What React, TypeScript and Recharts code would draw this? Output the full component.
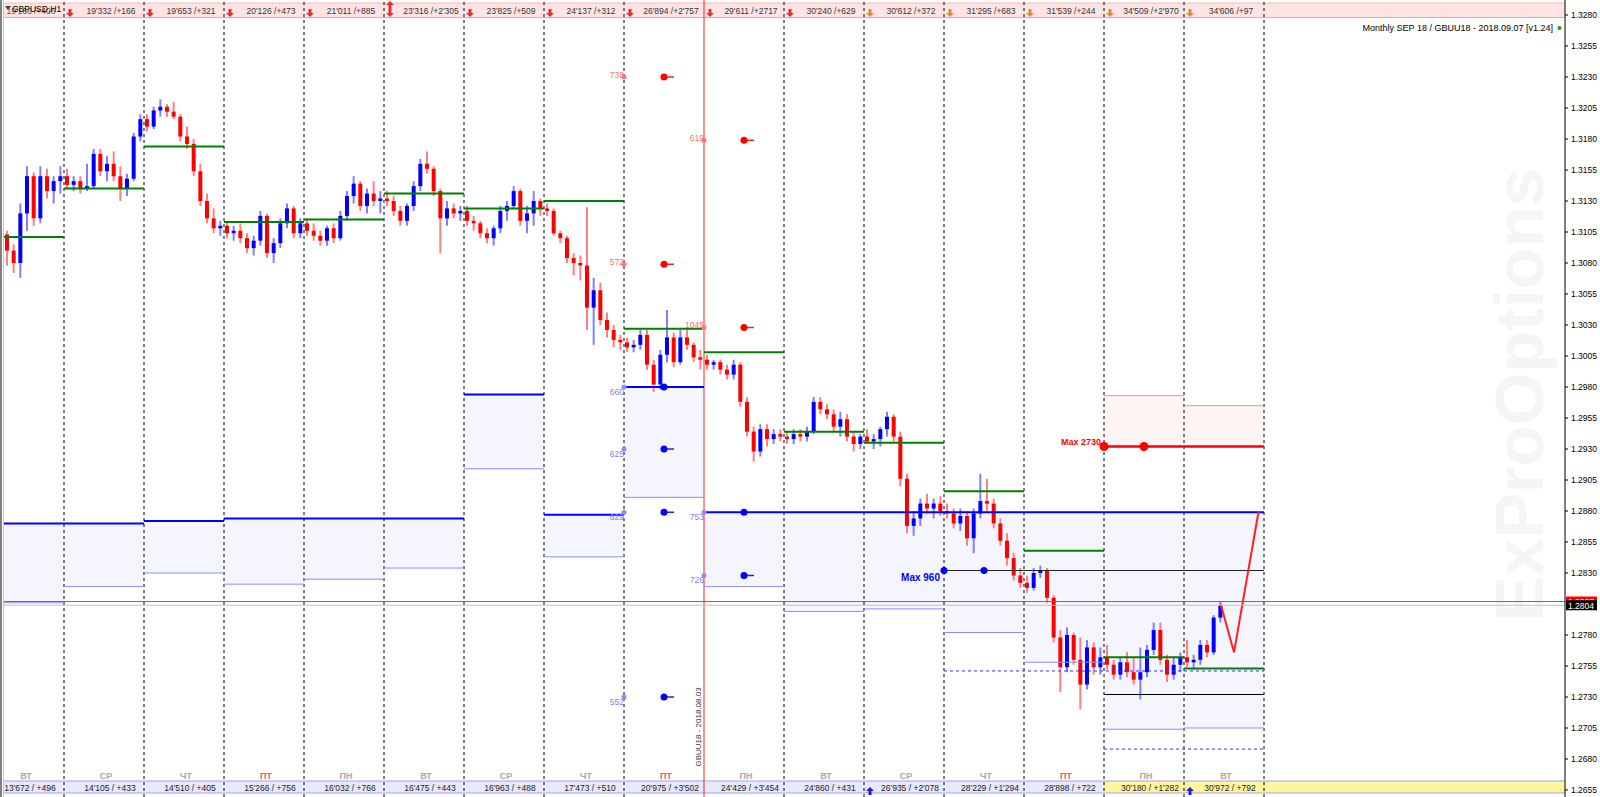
import React from "react";
import {
  ComposedChart,
  Bar,
  Cell,
  XAxis,
  YAxis,
  ReferenceLine,
  ReferenceArea,
  ReferenceDot,
} from "recharts";

// GBPUSD H1, aggregated to 2-hour bars.
// Each bar: [open, high, low, close] as the 4 digits after "1." (3103 -> 1.3103)
type Candle = [number, number, number, number];

const day00: Candle[] = [
  [3103, 3106, 3078, 3090], [3090, 3095, 3072, 3080], [3080, 3128, 3068, 3120],
  [3120, 3158, 3106, 3150], [3150, 3153, 3110, 3116], [3116, 3158, 3112, 3150],
  [3150, 3156, 3132, 3138], [3138, 3150, 3128, 3146], [3146, 3158, 3136, 3150],
];
const day01: Candle[] = [
  [3150, 3156, 3140, 3143], [3143, 3150, 3138, 3146], [3146, 3150, 3136, 3140],
  [3140, 3160, 3138, 3142], [3142, 3172, 3140, 3168], [3168, 3172, 3150, 3154],
  [3154, 3166, 3146, 3160], [3160, 3170, 3146, 3150], [3150, 3158, 3130, 3140],
  [3140, 3152, 3134, 3148], [3148, 3185, 3146, 3182], [3182, 3200, 3178, 3196],
];
const day02: Candle[] = [
  [3196, 3200, 3186, 3190], [3190, 3206, 3188, 3203], [3203, 3212, 3198, 3206],
  [3206, 3208, 3198, 3202], [3202, 3210, 3196, 3198], [3198, 3200, 3178, 3182],
  [3182, 3190, 3172, 3176], [3176, 3180, 3150, 3154], [3154, 3160, 3126, 3130],
  [3130, 3136, 3112, 3116], [3116, 3124, 3104, 3108], [3108, 3114, 3102, 3110],
];
const day03: Candle[] = [
  [3110, 3114, 3100, 3104], [3104, 3110, 3098, 3106], [3106, 3112, 3096, 3100],
  [3100, 3104, 3088, 3092], [3092, 3102, 3086, 3098], [3098, 3122, 3094, 3118],
  [3118, 3120, 3084, 3088], [3088, 3100, 3080, 3096], [3096, 3116, 3092, 3112],
  [3112, 3128, 3108, 3124], [3124, 3126, 3100, 3104], [3104, 3116, 3100, 3112],
];
const day04: Candle[] = [
  [3112, 3116, 3102, 3106], [3106, 3112, 3098, 3102], [3102, 3106, 3094, 3098],
  [3098, 3110, 3094, 3108], [3108, 3112, 3096, 3100], [3100, 3122, 3098, 3118],
  [3118, 3138, 3114, 3134], [3134, 3150, 3128, 3144], [3144, 3146, 3122, 3126],
  [3126, 3140, 3120, 3136], [3136, 3146, 3126, 3130], [3130, 3138, 3120, 3132],
];
const day05: Candle[] = [
  [3132, 3138, 3126, 3130], [3130, 3134, 3118, 3122], [3122, 3126, 3110, 3114],
  [3114, 3128, 3110, 3126], [3126, 3146, 3122, 3142], [3142, 3164, 3138, 3160],
  [3160, 3170, 3152, 3156], [3156, 3158, 3134, 3138], [3138, 3140, 3088, 3116],
  [3116, 3130, 3110, 3124], [3124, 3128, 3116, 3120], [3120, 3126, 3114, 3122],
];
const day06: Candle[] = [
  [3122, 3126, 3110, 3114], [3114, 3118, 3106, 3112], [3112, 3114, 3100, 3104],
  [3104, 3108, 3096, 3100], [3100, 3110, 3094, 3108], [3108, 3126, 3104, 3122],
  [3122, 3130, 3114, 3126], [3126, 3142, 3124, 3138], [3138, 3140, 3110, 3114],
  [3114, 3126, 3104, 3120], [3120, 3138, 3110, 3130], [3130, 3132, 3118, 3124],
];
const day07: Candle[] = [
  [3124, 3128, 3118, 3122], [3122, 3124, 3102, 3104], [3104, 3106, 3096, 3100],
  [3100, 3102, 3080, 3084], [3084, 3088, 3070, 3080], [3080, 3086, 3066, 3078],
  [3078, 3125, 3026, 3044], [3044, 3068, 3014, 3058], [3058, 3064, 3030, 3034],
  [3034, 3040, 3020, 3026], [3026, 3030, 3012, 3018], [3018, 3022, 3010, 3016],
];
const day08: Candle[] = [
  [3016, 3020, 3008, 3012], [3012, 3018, 3008, 3014], [3014, 3026, 3010, 3022],
  [3022, 3026, 2994, 2998], [2998, 3002, 2976, 2982], [2982, 3010, 2978, 3006],
  [3006, 3042, 3000, 3020], [3020, 3024, 2996, 3000], [3000, 3026, 2998, 3020],
  [3020, 3028, 3010, 3014], [3014, 3016, 3000, 3004], [3004, 3010, 2994, 3002],
];
const day09: Candle[] = [
  [3002, 3006, 2994, 2998], [2998, 3002, 2994, 3000], [3000, 3002, 2990, 2994],
  [2994, 2998, 2986, 2990], [2990, 3002, 2986, 2998], [2998, 3000, 2964, 2968],
  [2968, 2972, 2940, 2944], [2944, 2948, 2920, 2928], [2928, 2950, 2924, 2946],
  [2946, 2950, 2932, 2938], [2938, 2946, 2934, 2942], [2942, 2946, 2936, 2940],
];
const day10: Candle[] = [
  [2940, 2944, 2934, 2938], [2938, 2946, 2934, 2942], [2942, 2946, 2936, 2940],
  [2940, 2948, 2936, 2944], [2944, 2972, 2942, 2968], [2968, 2972, 2958, 2962],
  [2962, 2966, 2954, 2958], [2958, 2962, 2944, 2948], [2948, 2960, 2940, 2954],
  [2954, 2958, 2936, 2940], [2940, 2944, 2928, 2934], [2934, 2942, 2930, 2940],
];
const day11: Candle[] = [
  [2940, 2946, 2934, 2936], [2936, 2942, 2930, 2938], [2938, 2948, 2932, 2946],
  [2946, 2960, 2940, 2956], [2956, 2958, 2936, 2940], [2940, 2944, 2900, 2906],
  [2906, 2910, 2862, 2868], [2868, 2880, 2860, 2874], [2874, 2890, 2868, 2886],
  [2886, 2894, 2878, 2882], [2882, 2890, 2874, 2886], [2886, 2892, 2876, 2880],
];
const day12: Candle[] = [
  [2880, 2886, 2874, 2878], [2878, 2882, 2866, 2870], [2870, 2882, 2864, 2876],
  [2876, 2880, 2852, 2858], [2858, 2882, 2846, 2878], [2878, 2910, 2874, 2888],
  [2888, 2906, 2880, 2886], [2886, 2890, 2866, 2870], [2870, 2874, 2852, 2856],
  [2856, 2862, 2836, 2842], [2842, 2846, 2824, 2828], [2828, 2834, 2818, 2822],
];
const day13: Candle[] = [
  [2822, 2828, 2814, 2818], [2818, 2834, 2816, 2830], [2830, 2836, 2826, 2832],
  [2832, 2834, 2806, 2810], [2810, 2812, 2774, 2778], [2778, 2784, 2734, 2754],
  [2754, 2786, 2750, 2780], [2780, 2782, 2756, 2760], [2760, 2778, 2720, 2740],
  [2740, 2776, 2736, 2770], [2770, 2774, 2748, 2754], [2754, 2770, 2748, 2762],
];
const day14: Candle[] = [
  [2762, 2772, 2752, 2756], [2756, 2760, 2744, 2748], [2748, 2762, 2744, 2758],
  [2758, 2766, 2746, 2750], [2750, 2762, 2740, 2744], [2744, 2770, 2728, 2750],
  [2750, 2772, 2746, 2768], [2768, 2790, 2764, 2784], [2784, 2790, 2756, 2760],
  [2760, 2764, 2742, 2748], [2748, 2762, 2744, 2756], [2756, 2766, 2750, 2762],
];
const day15: Candle[] = [
  [2762, 2776, 2754, 2758], [2758, 2764, 2752, 2760], [2760, 2776, 2756, 2772],
  [2772, 2776, 2762, 2766], [2766, 2796, 2764, 2794], [2794, 2807, 2790, 2804],
];

const dayNames = ["ВТ", "СР", "ЧТ", "ПТ", "ПН", "ВТ", "СР", "ЧТ", "ПТ", "ПН", "ВТ", "СР", "ЧТ", "ПТ", "ПН", "ВТ"];
const topCounts = [
  "19'166 /+406", "19'332 /+166", "19'653 /+321", "20'126 /+473", "21'011 /+885", "23'316 /+2'305",
  "23'825 /+509", "24'137 /+312", "26'894 /+2'757", "29'611 /+2717", "30'240 /+629", "30'612 /+372",
  "31'295 /+683", "31'539 /+244", "34'509 /+2'970", "34'606 /+97",
];
const bottomCounts = [
  "13'672 / +496", "14'105 / +433", "14'510 / +405", "15'266 / +756", "16'032 / +766", "16'475 / +443",
  "16'963 / +488", "17'473 / +510", "20'975 / +3'502", "24'429 / +3'454", "24'860 / +431", "26'935 / +2'078",
  "28'229 / +1'294", "28'898 / +722", "30'180 / +1'282", "30'972 / +792",
];

// daily levels
const greenLevels = [1.3101, 1.314, 1.3174, 1.3113, 1.3115, 1.3136, 1.3124, 1.313, 1.3027, 1.3008, 1.2944, 1.2935, 1.2896, 1.2848, 1.2762, 1.2753];
const zoneTop = [1.287, 1.287, 1.2872, 1.2874, 1.2874, 1.2874, 1.2974, 1.2877, 1.298, 1.2879, 1.2879, 1.2879, 1.2879, 1.2879, 1.2879, 1.2879];
const zoneBottom = [1.2806, 1.2819, 1.283, 1.2821, 1.2825, 1.2834, 1.2914, 1.2843, 1.2891, 1.2819, 1.2799, 1.2801, 1.2782, 1.2758, 1.2704, 1.2705];

// option strikes marked on 2018.08.03 (label at day edge, dot mid-day)
const putStrikes = [1.323, 1.3079, 1.3179, 1.3028];
const putLabels = ["738", "572", "619", "1045"];
const putDay = [8, 8, 9, 9];
const callStrikes = [1.298, 1.293, 1.2879, 1.273, 1.2879, 1.2828];
const callLabels = ["660", "625", "629", "552", "753", "726"];
const callDay = [8, 8, 8, 8, 9, 9];
const callTail = [false, true, true, true, false, true];

const maxCall = { level: 1.2832, day: 12, text: "Max 960" };
const maxPut = { level: 1.2932, day: 14, text: "Max 2730" };
const pinkTop = [1.2973, 1.2965];
const dashedLevels = [
  { level: 1.2751, from: 12 },
  { level: 1.2688, from: 14 },
];
const blackLow = { level: 1.2732, from: 14 };
const forecast = [
  { x: 185.5, y: 1.2805 },
  { x: 187.5, y: 1.2766 },
  { x: 191.2, y: 1.288 },
];
const bidPrice = 1.2804;
const askPrice = 1.2807;

const yTicks = [
  1.2655, 1.268, 1.2705, 1.273, 1.2755, 1.278, 1.283, 1.2855, 1.288, 1.2905, 1.293, 1.2955, 1.298,
  1.3005, 1.303, 1.3055, 1.308, 1.3105, 1.313, 1.3155, 1.318, 1.3205, 1.323, 1.3255, 1.328,
];

const W = 1600;
const H = 797;
const PLOT_LEFT = 4;
const AXIS_W = 35;
const PLOT_RIGHT = W - AXIS_W;
const X_MIN = 3;
const X_MAX = 237.15;
const Y_MIN = 1.264935;
const Y_MAX = 1.32921;
const BARS_PER_DAY = 12;
const FIRST_BAR = 3;
const LAST_DAY_END = 16 * BARS_PER_DAY;
const FONT = "'Liberation Sans', Arial, sans-serif";

const toPrice = (v: number) => 1 + v / 10000;

const days = [day00, day01, day02, day03, day04, day05, day06, day07, day08, day09, day10, day11, day12, day13, day14, day15];

const candles = days.flatMap((bars, d) =>
  bars.map(([o, h, l, c], j) => {
    const idx = d * BARS_PER_DAY + (d === 0 ? FIRST_BAR : 0) + j;
    const lo = toPrice(Math.min(o, c));
    const hi = toPrice(Math.max(o, c));
    return {
      x: idx + 0.5,
      wick: [toPrice(l), toPrice(h)],
      body: hi - lo < 0.00008 ? [lo - 0.00004, hi + 0.00004] : [lo, hi],
      up: c >= o,
    };
  })
);

// pixel edge of a day, only used for the header/footer strips
const dayPx = (k: number) =>
  PLOT_LEFT + ((k * BARS_PER_DAY - X_MIN) * (PLOT_RIGHT - PLOT_LEFT)) / (X_MAX - X_MIN);

const dayStart = (k: number) => Math.max(X_MIN, k * BARS_PER_DAY);
const dayEnd = (k: number) => k * BARS_PER_DAY + BARS_PER_DAY;

type VB = { x: number; y: number; width: number; height: number };

const tagText =
  (text: string, color: string, dx: number, dy: number, anchor: "start" | "middle" | "end", size = 8.5, weight: string | number = "normal") =>
  (props: { viewBox?: VB }) => {
    const vb = props.viewBox;
    if (!vb) return null;
    const cx = vb.x + vb.width / 2;
    const cy = vb.y + vb.height / 2;
    return (
      <text x={cx + dx} y={cy + dy} textAnchor={anchor} fill={color} fontSize={size} fontWeight={weight} fontFamily={FONT}>
        {text}
      </text>
    );
  };

const priceTag = (text: string, bg: string) => (props: { viewBox?: VB }) => {
  const vb = props.viewBox;
  if (!vb) return null;
  const x = vb.x + vb.width + 1;
  return (
    <g>
      <rect x={x} y={vb.y - 5} width={31} height={10} fill={bg} />
      <text x={x + 2} y={vb.y + 3.5} fill="#fff" fontSize={8.5} fontFamily={FONT}>
        {text}
      </text>
    </g>
  );
};

function DownArrow({ x, y, color }: { x: number; y: number; color: string }) {
  const p = `${x - 1.5},${y} ${x + 1.5},${y} ${x + 1.5},${y + 4} ${x + 4},${y + 4} ${x},${y + 8} ${x - 4},${y + 4} ${x - 1.5},${y + 4}`;
  return <polygon points={p} fill={color} />;
}

function UpArrow({ x, y, color }: { x: number; y: number; color: string }) {
  const p = `${x},${y} ${x + 4},${y + 4} ${x + 1.5},${y + 4} ${x + 1.5},${y + 8} ${x - 1.5},${y + 8} ${x - 1.5},${y + 4} ${x - 4},${y + 4}`;
  return <polygon points={p} fill={color} />;
}

export default function App() {
  const dayIdx = dayNames.map((_, k) => k);

  return (
    <div style={{ position: "relative", width: W, height: H, background: "#fff", overflow: "hidden" }}>
      <style>{"body{margin:0}"}</style>

      {/* background: watermark and strips */}
      <svg width={W} height={H} style={{ position: "absolute", left: 0, top: 0, zIndex: 0 }}>
        <text
          transform="translate(1543 395) rotate(-90)"
          textAnchor="middle"
          fontSize={68}
          fontWeight="bold"
          fontFamily={FONT}
          fill="#f5f5f5"
        >
          ExProOptions
        </text>
        <rect x={PLOT_LEFT} y={3} width={PLOT_RIGHT - PLOT_LEFT} height={14} fill="#ffe4e4" />
        <line x1={PLOT_LEFT} x2={PLOT_RIGHT} y1={3} y2={3} stroke="#ffb4b4" />
        <line x1={PLOT_LEFT} x2={PLOT_RIGHT} y1={17.5} y2={17.5} stroke="#ff9c9c" />
        <rect x={PLOT_LEFT} y={781} width={PLOT_RIGHT - PLOT_LEFT} height={12} fill="#e8e8fb" />
        <rect x={dayPx(14)} y={781} width={PLOT_RIGHT - dayPx(14)} height={12} fill="#fff59d" />
        <line x1={PLOT_LEFT} x2={PLOT_RIGHT} y1={781} y2={781} stroke="#a0a0f0" />
        <line x1={PLOT_LEFT} x2={PLOT_RIGHT} y1={793} y2={793} stroke="#a0a0f0" />
        <rect x={0} y={0} width={2} height={H} fill="#808080" />
        <rect x={3} y={0} width={1} height={H} fill="#c8c8c8" />
      </svg>

      <div style={{ position: "absolute", left: 0, top: 0, zIndex: 1 }}>
        <ComposedChart
          width={W}
          height={H}
          data={candles}
          margin={{ top: 0, right: 0, bottom: 0, left: PLOT_LEFT }}
          style={{ fontFamily: FONT }}
        >
          <XAxis xAxisId={0} type="number" dataKey="x" domain={[X_MIN, X_MAX]} allowDataOverflow hide />
          <XAxis xAxisId="wick" type="number" dataKey="x" domain={[X_MIN, X_MAX]} allowDataOverflow hide />
          <XAxis xAxisId="body" type="number" dataKey="x" domain={[X_MIN, X_MAX]} allowDataOverflow hide />
          <YAxis
            orientation="right"
            type="number"
            domain={[Y_MIN, Y_MAX]}
            allowDataOverflow
            ticks={yTicks}
            interval={0}
            tickFormatter={(v: number) => v.toFixed(4)}
            width={AXIS_W}
            tickSize={3}
            tickMargin={3}
            axisLine={{ stroke: "#000" }}
            tickLine={{ stroke: "#000" }}
            tick={{ fontSize: 8.5, fill: "#000", fontFamily: FONT }}
          />

          {/* daily call zones */}
          {dayIdx.map((k) => (
            <ReferenceArea
              key={`zone-${k}`}
              x1={dayStart(k)}
              x2={dayEnd(k)}
              y1={zoneBottom[k]}
              y2={zoneTop[k]}
              fill="#f5f5fd"
              fillOpacity={1}
              stroke="none"
            />
          ))}
          {pinkTop.map((top, i) => (
            <ReferenceArea
              key={`pink-${i}`}
              x1={dayStart(maxPut.day + i)}
              x2={dayEnd(maxPut.day + i)}
              y1={maxPut.level}
              y2={top}
              fill="#fff4f4"
              fillOpacity={1}
              stroke="none"
            />
          ))}

          {/* day separators */}
          {Array.from({ length: 16 }, (_, i) => i + 1).map((k) =>
            k === 9 ? (
              <ReferenceLine key={`sep-${k}`} x={k * BARS_PER_DAY} stroke="#ff2020" strokeWidth={1} />
            ) : (
              <ReferenceLine key={`sep-${k}`} x={k * BARS_PER_DAY} stroke="#000" strokeDasharray="3 3" strokeWidth={1} />
            )
          )}

          {/* candles */}
          <Bar xAxisId="wick" dataKey="wick" barSize={2} isAnimationActive={false}>
            {candles.map((c, i) => (
              <Cell key={`w-${i}`} fill={c.up ? "#8080ff" : "#ff8080"} />
            ))}
          </Bar>
          <Bar xAxisId="body" dataKey="body" barSize={4} isAnimationActive={false}>
            {candles.map((c, i) => (
              <Cell key={`b-${i}`} fill={c.up ? "#0000ff" : "#ff0000"} />
            ))}
          </Bar>

          {/* zone borders */}
          {dayIdx.map((k) => (
            <ReferenceLine
              key={`zb-${k}`}
              segment={[{ x: dayStart(k), y: zoneBottom[k] }, { x: dayEnd(k), y: zoneBottom[k] }]}
              stroke="#8c8cff"
              strokeWidth={1}
            />
          ))}
          {pinkTop.map((top, i) => (
            <ReferenceLine
              key={`pt-${i}`}
              segment={[{ x: dayStart(maxPut.day + i), y: top }, { x: dayEnd(maxPut.day + i), y: top }]}
              stroke="#ff9090"
              strokeWidth={1}
            />
          ))}
          {dashedLevels.map((d, i) => (
            <ReferenceLine
              key={`dash-${i}`}
              segment={[{ x: dayStart(d.from), y: d.level }, { x: LAST_DAY_END, y: d.level }]}
              stroke="#3030ff"
              strokeDasharray="3 3"
              strokeWidth={1}
            />
          ))}
          <ReferenceLine
            segment={[{ x: dayStart(blackLow.from), y: blackLow.level }, { x: LAST_DAY_END, y: blackLow.level }]}
            stroke="#000"
            strokeWidth={1}
          />
          <ReferenceLine
            segment={[{ x: dayStart(maxCall.day), y: maxCall.level }, { x: LAST_DAY_END, y: maxCall.level }]}
            stroke="#202020"
            strokeWidth={1}
          />
          {dayIdx.map((k) => (
            <ReferenceLine
              key={`zt-${k}`}
              segment={[{ x: dayStart(k), y: zoneTop[k] }, { x: dayEnd(k), y: zoneTop[k] }]}
              stroke="#0000ff"
              strokeWidth={2}
            />
          ))}
          {dayIdx.map((k) => (
            <ReferenceLine
              key={`g-${k}`}
              segment={[{ x: dayStart(k), y: greenLevels[k] }, { x: dayEnd(k), y: greenLevels[k] }]}
              stroke="#008000"
              strokeWidth={2}
            />
          ))}
          <ReferenceLine
            segment={[{ x: dayStart(maxPut.day), y: maxPut.level }, { x: LAST_DAY_END, y: maxPut.level }]}
            stroke="#ff0000"
            strokeWidth={2.5}
          />

          {/* forecast path */}
          {forecast.slice(1).map((p, i) => (
            <ReferenceLine key={`fc-${i}`} segment={[forecast[i], p]} stroke="#ff2020" strokeWidth={2} />
          ))}

          {/* strike markers */}
          {putStrikes.map((lv, i) => {
            const mid = putDay[i] * BARS_PER_DAY + 6;
            return (
              <React.Fragment key={`put-${i}`}>
                <ReferenceLine segment={[{ x: mid, y: lv }, { x: mid + 1.5, y: lv }]} stroke="#ff2020" strokeWidth={1.5} />
                <ReferenceDot x={mid} y={lv} r={3.5} fill="#ff0000" stroke="none" />
                <ReferenceDot
                  x={putDay[i] * BARS_PER_DAY}
                  y={lv}
                  r={2.5}
                  fill="#ff7878"
                  stroke="none"
                  label={tagText(putLabels[i], "#ff7070", 0, 1, "end", 8.5)}
                />
              </React.Fragment>
            );
          })}
          {callStrikes.map((lv, i) => {
            const mid = callDay[i] * BARS_PER_DAY + 6;
            return (
              <React.Fragment key={`call-${i}`}>
                {callTail[i] && (
                  <ReferenceLine segment={[{ x: mid, y: lv }, { x: mid + 1.5, y: lv }]} stroke="#2020ff" strokeWidth={1.5} />
                )}
                <ReferenceDot x={mid} y={lv} r={3.5} fill="#0000ff" stroke="none" />
                <ReferenceDot
                  x={callDay[i] * BARS_PER_DAY}
                  y={lv}
                  r={2.5}
                  fill="#8c8cff"
                  stroke="none"
                  label={tagText(callLabels[i], "#8080ff", 0, 8, "end", 8.5)}
                />
              </React.Fragment>
            );
          })}

          <ReferenceDot
            x={maxCall.day * BARS_PER_DAY}
            y={maxCall.level}
            r={3.5}
            fill="#0000ff"
            stroke="none"
            label={tagText(maxCall.text, "#0000ff", -4, 10, "end", 10, "bold")}
          />
          <ReferenceDot x={maxCall.day * BARS_PER_DAY + 6} y={maxCall.level} r={3.5} fill="#0000ff" stroke="none" />
          <ReferenceDot
            x={maxPut.day * BARS_PER_DAY}
            y={maxPut.level}
            r={4.5}
            fill="#ff0000"
            stroke="none"
            label={tagText(maxPut.text, "#ff0000", -3, -2, "end", 9, "bold")}
          />
          <ReferenceDot x={maxPut.day * BARS_PER_DAY + 6} y={maxPut.level} r={4.5} fill="#ff0000" stroke="none" />

          {/* current ask / bid; the black bid tag is drawn last so it covers the red one */}
          <ReferenceLine y={askPrice} stroke="#ff3030" strokeWidth={1} label={priceTag("1.2807", "#ff0000")} />
          <ReferenceLine y={bidPrice} stroke="#c4c4c4" strokeWidth={1} label={priceTag("1.2804", "#000")} />
        </ComposedChart>
      </div>

      {/* foreground texts */}
      <svg width={W} height={H} style={{ position: "absolute", left: 0, top: 0, zIndex: 2, pointerEvents: "none" }} fontFamily={FONT}>
        {topCounts.map((t, k) => (
          <text key={`tc-${k}`} x={dayPx(k) + 47} y={13.5} textAnchor="middle" fontSize={8.5} fill={k === 0 ? "#555" : "#333"}>
            {t}
          </text>
        ))}
        {dayIdx.slice(1).map((k) =>
          k === 5 ? (
            <g key={`ta-${k}`}>
              <UpArrow x={dayPx(k) + 6} y={1} color="#e83030" />
              <DownArrow x={dayPx(k) + 6} y={9} color="#e83030" />
            </g>
          ) : (
            <DownArrow key={`ta-${k}`} x={dayPx(k) + 6} y={9} color={k >= 11 ? "#e08a30" : "#e83030"} />
          )
        )}
        <polygon points="5,6 11,6 8,10" fill="#404040" />
        <text x={12} y={12} fontSize={8.5} fill="#000">
          GBPUSD,H1
        </text>
        <text x={1553} y={31} textAnchor="end" fontSize={9} fill="#000">
          Monthly SEP 18 / GBUU18 - 2018.09.07 [v1.24]
        </text>
        <circle cx={1559.5} cy={28} r={2} fill="#10a010" />

        {dayNames.map((d, k) => (
          <text
            key={`dn-${k}`}
            x={dayPx(k) + 42}
            y={778.5}
            textAnchor="middle"
            fontSize={9}
            fontWeight="bold"
            fill={d === "ПТ" ? "#ff5050" : "#a8a8a8"}
          >
            {d}
          </text>
        ))}
        {bottomCounts.map((t, k) => (
          <text key={`bc-${k}`} x={dayPx(k) + 46} y={790.5} textAnchor="middle" fontSize={8.5} fill="#222">
            {t}
          </text>
        ))}
        <UpArrow x={dayPx(11) + 6} y={787} color="#2020e0" />
        <UpArrow x={dayPx(15) + 6} y={787} color="#2020e0" />

        <text transform={`translate(${dayPx(9) - 3} 727) rotate(-90)`} textAnchor="middle" fontSize={8} fill="#333">
          GBUU18 - 2018.08.03
        </text>
      </svg>
    </div>
  );
}
